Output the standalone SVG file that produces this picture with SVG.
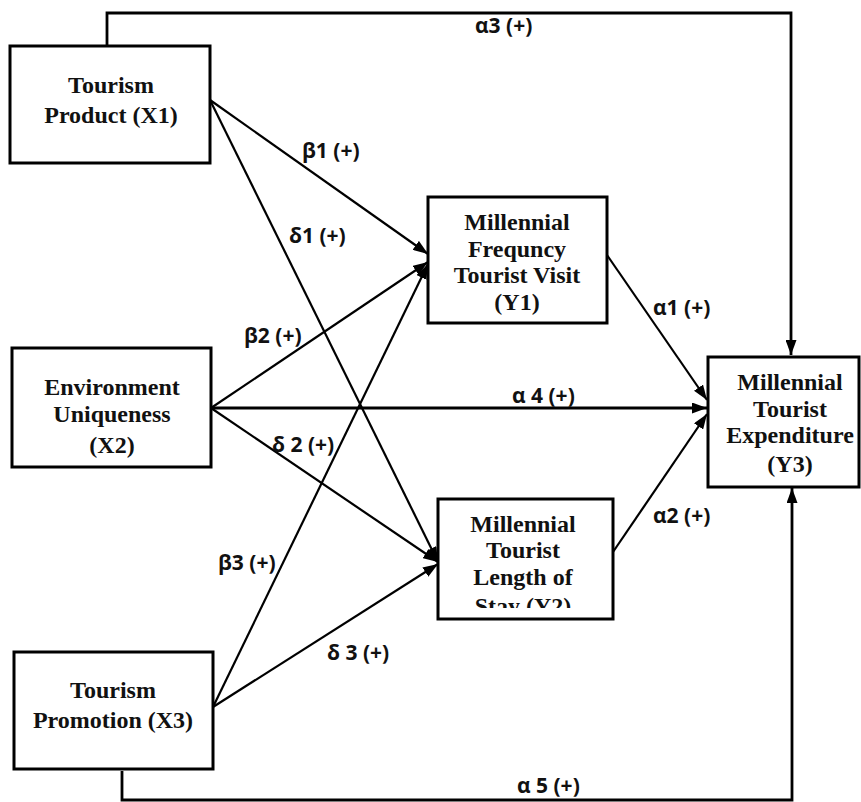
<svg xmlns="http://www.w3.org/2000/svg" width="861" height="802" viewBox="0 0 861 802">
<style>
.box{fill:#fff;stroke:#000;stroke-width:3}
.nt{font-family:"Liberation Serif","Times New Roman",serif;font-weight:bold;font-size:24px;text-anchor:middle;fill:#111}
.lb{font-family:"Open Sans","Liberation Sans",sans-serif;font-weight:bold;font-size:21px;fill:#111}
.c{fill:none;stroke:#000;stroke-width:2.2}
.cb{fill:none;stroke:#000;stroke-width:2.8}
</style>
<defs>
<marker id="ah" viewBox="0 0 15 11" refX="15" refY="5.5" markerWidth="15" markerHeight="11" markerUnits="userSpaceOnUse" orient="auto">
<path d="M0,0 L15,5.5 L0,11 Z" fill="#000"/>
</marker>
<clipPath id="y2clip"><rect x="438" y="499" width="175" height="109"/></clipPath>
</defs>
<rect width="861" height="802" fill="#fff"/>
<g id="connectors">
<polyline class="cb" points="107,46 107,13 791,13 791,355" marker-end="url(#ah)"/>
<polyline class="cb" points="122,771 122,800 792,800 792,488" marker-end="url(#ah)"/>
<line class="c" x1="210" y1="100" x2="428" y2="254" marker-end="url(#ah)"/>
<line class="c" x1="210" y1="100" x2="438" y2="562" marker-end="url(#ah)"/>
<line class="c" x1="211" y1="408" x2="428" y2="262" marker-end="url(#ah)"/>
<line class="cb" x1="211" y1="408" x2="707" y2="408" marker-end="url(#ah)"/>
<line class="c" x1="211" y1="408" x2="438" y2="562" marker-end="url(#ah)"/>
<line class="c" x1="213" y1="707" x2="428" y2="264" marker-end="url(#ah)"/>
<line class="c" x1="213" y1="707" x2="438" y2="564" marker-end="url(#ah)"/>
<line class="c" x1="607" y1="255" x2="707" y2="400" marker-end="url(#ah)"/>
<line class="c" x1="613" y1="552" x2="707" y2="414" marker-end="url(#ah)"/>
<text class="lb" x="475" y="33">α3 (+)</text>
<text class="lb" x="302" y="158">β1 (+)</text>
<text class="lb" x="289" y="243">δ1 (+)</text>
<text class="lb" x="244" y="343">β2 (+)</text>
<text class="lb" x="512" y="403">α 4 (+)</text>
<text class="lb" x="272" y="452">δ 2 (+)</text>
<text class="lb" x="218" y="570">β3 (+)</text>
<text class="lb" x="327" y="660">δ 3 (+)</text>
<text class="lb" x="653" y="315">α1 (+)</text>
<text class="lb" x="653" y="523">α2 (+)</text>
<text class="lb" x="517" y="793">α 5 (+)</text>
</g>
<g id="X1">
<rect class="box" x="10" y="46" width="200" height="117"/>
<text class="nt" x="111" y="93">Tourism</text>
<text class="nt" x="111" y="123">Product (X1)</text>
</g>
<g id="X2">
<rect class="box" x="12" y="348" width="199" height="119"/>
<text class="nt" x="112" y="395">Environment</text>
<text class="nt" x="112" y="422">Uniqueness</text>
<text class="nt" x="112" y="453">(X2)</text>
</g>
<g id="X3">
<rect class="box" x="14" y="652" width="199" height="117"/>
<text class="nt" x="113" y="698">Tourism</text>
<text class="nt" x="113" y="728">Promotion (X3)</text>
</g>
<g id="Y1">
<rect class="box" x="428" y="197" width="179" height="126"/>
<text class="nt" x="517" y="230">Millennial</text>
<text class="nt" x="517" y="257">Frequncy</text>
<text class="nt" x="517" y="283">Tourist Visit</text>
<text class="nt" x="517" y="310">(Y1)</text>
</g>
<g id="Y2">
<rect class="box" x="438" y="499" width="175" height="120"/>
<g clip-path="url(#y2clip)">
<text class="nt" x="523" y="532">Millennial</text>
<text class="nt" x="523" y="558">Tourist</text>
<text class="nt" x="523" y="585">Length of</text>
<text class="nt" x="523" y="614">Stay (Y2)</text>
</g>
</g>
<g id="Y3">
<rect class="box" x="708" y="357" width="151" height="130"/>
<text class="nt" x="790" y="390">Millennial</text>
<text class="nt" x="790" y="417">Tourist</text>
<text class="nt" x="790" y="443">Expenditure</text>
<text class="nt" x="790" y="472">(Y3)</text>
</g>
</svg>
